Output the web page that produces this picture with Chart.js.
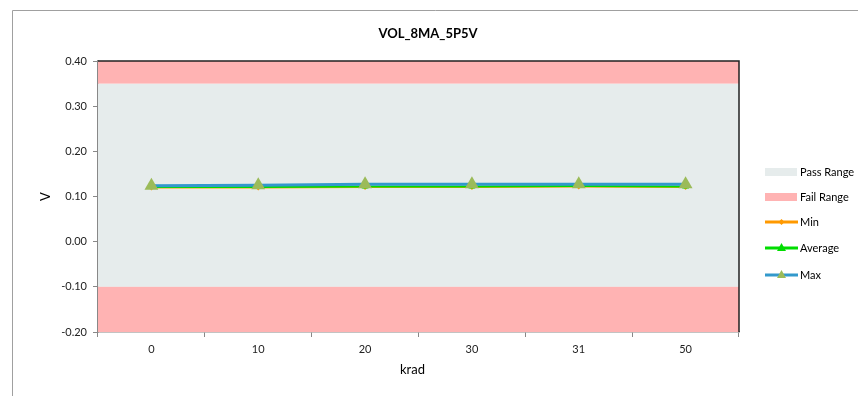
<!DOCTYPE html>
<html>
<head>
<meta charset="utf-8">
<title>VOL_8MA_5P5V</title>
<script src="https://cdn.jsdelivr.net/npm/chart.js@4.4.1/dist/chart.umd.min.js"></script>
<style>
  html, body { margin: 0; padding: 0; background: #fff; }
  #wrap { width: 858px; height: 396px; position: relative; }
</style>
</head>
<body>
<div id="wrap"><canvas id="c" width="858" height="396"></canvas></div>
<script>
// Dose steps (krad) and measured voltages
const categories = ['0', '10', '20', '30', '31', '50'];
const minValues = [0.120, 0.120, 0.121, 0.121, 0.122, 0.121];
const avgValues = [0.121, 0.121, 0.122, 0.122, 0.123, 0.122];
const maxValues = [0.124, 0.125, 0.127, 0.127, 0.127, 0.127];

// Limit bands: [from, to]
const passRange = [-0.10, 0.35];
const failRanges = [[0.35, 0.40], [-0.20, -0.10]];
const yTicks = [-0.20, -0.10, 0.00, 0.10, 0.20, 0.30, 0.40];

const FONT = 'Lato, "Open Sans", sans-serif';
const PASS_COLOR = '#E6ECEC';
const FAIL_COLOR = '#FFB3B3';
const MIN_COLOR = '#FF9900';
const AVG_COLOR = '#00DD00';
const MAX_COLOR = '#3399CC';
const MARK_COLOR = '#9BBB59';

// Background bands, frame, titles and legend
const decor = {
  id: 'decor',
  beforeDatasetsDraw(chart) {
    const { ctx, chartArea: a, scales: { y } } = chart;
    ctx.save();
    const band = (r, color) => {
      const t = y.getPixelForValue(r[1]);
      const b = y.getPixelForValue(r[0]);
      ctx.fillStyle = color;
      ctx.fillRect(a.left, t, a.right - a.left, b - t);
    };
    band(passRange, PASS_COLOR);
    failRanges.forEach(r => band(r, FAIL_COLOR));
    ctx.restore();
  },
  afterDraw(chart) {
    const { ctx, chartArea: a } = chart;
    ctx.save();
    // outer frame
    ctx.strokeStyle = '#A0A0A0';
    ctx.lineWidth = 1;
    ctx.beginPath();
    ctx.moveTo(12.5, 400);
    ctx.lineTo(12.5, 10.5);
    ctx.lineTo(870, 10.5);
    ctx.stroke();
    // top and right plot borders
    ctx.strokeStyle = '#222';
    ctx.lineWidth = 1.5;
    ctx.beginPath();
    ctx.moveTo(a.left, a.top);
    ctx.lineTo(a.right, a.top);
    ctx.lineTo(a.right, a.bottom);
    ctx.stroke();
    // title
    ctx.fillStyle = '#000';
    ctx.font = 'bold 13px ' + FONT;
    ctx.textAlign = 'center';
    ctx.textBaseline = 'middle';
    ctx.fillText('VOL_8MA_5P5V', 428, 34);
    // axis titles
    ctx.font = '13px ' + FONT;
    ctx.fillText('krad', (a.left + a.right) / 2 - 6, 370);
    ctx.save();
    ctx.translate(46, (a.top + a.bottom) / 2);
    ctx.rotate(-Math.PI / 2);
    ctx.fillText('V', 0, 0);
    ctx.restore();
    // legend
    ctx.font = '11px ' + FONT;
    ctx.textAlign = 'left';
    const lx = 765, tx = 800;
    ctx.fillStyle = PASS_COLOR;
    ctx.fillRect(lx, 168, 32, 8);
    ctx.fillStyle = '#000';
    ctx.fillText('Pass Range', tx, 172);
    ctx.fillStyle = FAIL_COLOR;
    ctx.fillRect(lx, 193, 32, 8);
    ctx.fillStyle = '#000';
    ctx.fillText('Fail Range', tx, 197);
    const lineItem = (yy, color, label, marker, mColor) => {
      ctx.strokeStyle = color;
      ctx.lineWidth = 3;
      ctx.beginPath();
      ctx.moveTo(lx, yy);
      ctx.lineTo(lx + 33, yy);
      ctx.stroke();
      ctx.fillStyle = mColor;
      const cx = lx + 16.5;
      ctx.beginPath();
      if (marker === 'diamond') {
        ctx.moveTo(cx, yy - 3); ctx.lineTo(cx + 3, yy); ctx.lineTo(cx, yy + 3); ctx.lineTo(cx - 3, yy);
      } else {
        ctx.moveTo(cx, yy - 5); ctx.lineTo(cx + 4.5, yy + 3); ctx.lineTo(cx - 4.5, yy + 3);
      }
      ctx.closePath();
      ctx.fill();
      ctx.fillStyle = '#000';
      ctx.fillText(label, tx, yy);
    };
    lineItem(222, MIN_COLOR, 'Min', 'diamond', MIN_COLOR);
    lineItem(248, AVG_COLOR, 'Average', 'triangle', AVG_COLOR);
    lineItem(275, MAX_COLOR, 'Max', 'triangle', MARK_COLOR);
    ctx.restore();
  }
};

new Chart(document.getElementById('c'), {
  type: 'line',
  data: {
    labels: categories,
    datasets: [
      { label: 'Max', data: maxValues, borderColor: MAX_COLOR, borderWidth: 3,
        pointStyle: 'triangle', pointRadius: 8, pointBackgroundColor: MARK_COLOR,
        pointBorderColor: MARK_COLOR, pointBorderWidth: 0, order: 1 },
      { label: 'Average', data: avgValues, borderColor: AVG_COLOR, borderWidth: 2,
        pointStyle: 'triangle', pointRadius: 4, pointBackgroundColor: AVG_COLOR,
        pointBorderWidth: 0, order: 2 },
      { label: 'Min', data: minValues, borderColor: MIN_COLOR, borderWidth: 2,
        pointStyle: 'rectRot', pointRadius: 3, pointBackgroundColor: MIN_COLOR,
        pointBorderWidth: 0, order: 3 }
    ]
  },
  options: {
    responsive: false,
    animation: false,
    devicePixelRatio: 1,
    layout: { padding: { left: 0, top: 61, right: 119, bottom: 0 } },
    plugins: { legend: { display: false }, title: { display: false }, tooltip: { enabled: false } },
    elements: { line: { tension: 0 } },
    scales: {
      x: {
        type: 'category',
        offset: true,
        grid: { offset: true, drawOnChartArea: false, drawTicks: true, tickLength: 5, color: '#888', lineWidth: 1 },
        border: { color: '#888', width: 1.5 },
        ticks: { color: '#222', font: { family: FONT, size: 11 }, padding: 6, maxRotation: 0 },
        afterFit(s) { s.height = 64; }
      },
      y: {
        min: -0.20, max: 0.40,
        afterBuildTicks(s) { s.ticks = yTicks.map(v => ({ value: v })); },
        grid: { drawOnChartArea: false, drawTicks: true, tickLength: 5, color: '#888', lineWidth: 1 },
        border: { color: '#888', width: 1.5 },
        ticks: { color: '#222', font: { family: FONT, size: 11 }, padding: 6,
          callback: v => v.toFixed(2) },
        afterFit(s) { s.width = 98; }
      }
    }
  },
  plugins: [decor]
});
</script>
</body>
</html>
